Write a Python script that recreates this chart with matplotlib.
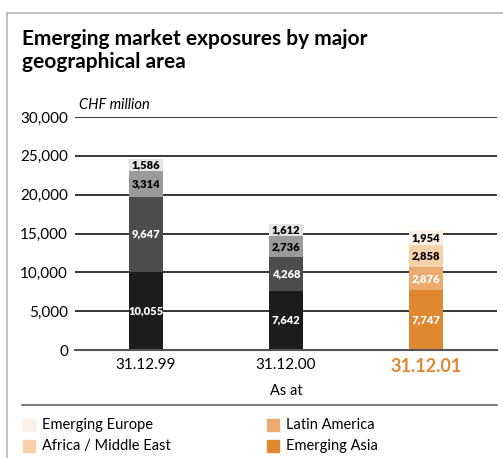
import matplotlib.pyplot as plt
from matplotlib.patches import Rectangle
from matplotlib.lines import Line2D

plt.rcParams['font.family'] = ['Lato', 'DejaVu Sans']

dates = ["31.12.99", "31.12.00", "31.12.01"]
emerging_asia = [10055, 7642, 7747]
latin_america = [9647, 4268, 2876]
africa_me = [3314, 2736, 2858]
emerging_europe = [1586, 1612, 1954]

series = [emerging_asia, latin_america, africa_me, emerging_europe]
gray_colors = ["#1c1c1c", "#4d4d4d", "#9a9a9a", "#e4e4e4"]
orange_colors = ["#e08830", "#ebab6f", "#f6d1aa", "#fdf1e7"]
label_colors = ["white", "white", "black", "black"]

W, H = 503, 458
fig = plt.figure(figsize=(W / 100, H / 100), dpi=100)

# frame lines at left and top
fig.add_artist(Line2D([7 / W, 7 / W], [0, 1 - 13 / H], color="#b8b8b8", lw=1.2))
fig.add_artist(Line2D([7 / W, 1], [1 - 13 / H, 1 - 13 / H], color="#b8b8b8", lw=1.2))

fig.text(22 / W, 1 - 45 / H, "Emerging market exposures by major", fontsize=15,
         fontweight="bold", va="baseline")
fig.text(22 / W, 1 - 68 / H, "geographical area", fontsize=15,
         fontweight="bold", va="baseline")

ax = fig.add_axes([75 / W, (H - 350) / H, (497 - 75) / W, (350 - 117) / H])
ax.set_xlim(-0.507, 2.507)
ax.set_ylim(0, 30000)
for s in ax.spines.values():
    s.set_visible(False)

ticks = [0, 5000, 10000, 15000, 20000, 25000, 30000]
for t in ticks[1:]:
    ax.axhline(t, color="black", lw=1.1, zorder=0)
ax.axhline(0, color="#555555", lw=1.5, zorder=3, clip_on=False)
ax.set_yticks(ticks)
ax.set_yticklabels([f"{t:,}" for t in ticks], fontsize=11)
ax.tick_params(axis="y", length=0, pad=5)
ax.tick_params(axis="x", length=0, pad=6)

x = list(range(len(dates)))
bottoms = [0, 0, 0]
for k, vals in enumerate(series):
    for i in x:
        col = orange_colors[k] if i == 2 else gray_colors[k]
        ax.bar(i, vals[i], bottom=bottoms[i], width=0.245, color=col, zorder=2)
        ax.text(i, bottoms[i] + vals[i] / 2, f"{vals[i]:,}", ha="center", va="center",
                fontsize=8, fontweight="heavy", color=label_colors[k], zorder=4)
    bottoms = [bottoms[i] + vals[i] for i in x]

ax.set_xticks(x)
ax.set_xticklabels(dates, fontsize=11)
lbls = ax.get_xticklabels()
lbls[2].set_color("#e08830")
lbls[2].set_fontweight("bold")
lbls[2].set_fontsize(13)

ax.text(0.01, 30000 + 600, "CHF million", style="italic", fontsize=10.5,
        transform=ax.get_yaxis_transform(), ha="left", va="bottom")
fig.text(286 / W, 1 - 391 / H, "As at", fontsize=10.5, ha="center", va="center")

fig.add_artist(Line2D([22 / W, 497 / W], [1 - 405 / H, 1 - 405 / H], color="#555555", lw=1.1))

legend_items = [("Emerging Europe", orange_colors[3], 23, 425),
                ("Africa / Middle East", orange_colors[2], 23, 446),
                ("Latin America", orange_colors[1], 267, 425),
                ("Emerging Asia", orange_colors[0], 267, 446)]
for name, col, lx, ly in legend_items:
    fig.add_artist(Rectangle((lx / W, 1 - (ly + 6) / H), 12 / W, 12 / H, color=col,
                             transform=fig.transFigure))
    fig.text((lx + 19) / W, 1 - ly / H, name, fontsize=10.5, va="center")

fig.savefig("out.png", dpi=100)
